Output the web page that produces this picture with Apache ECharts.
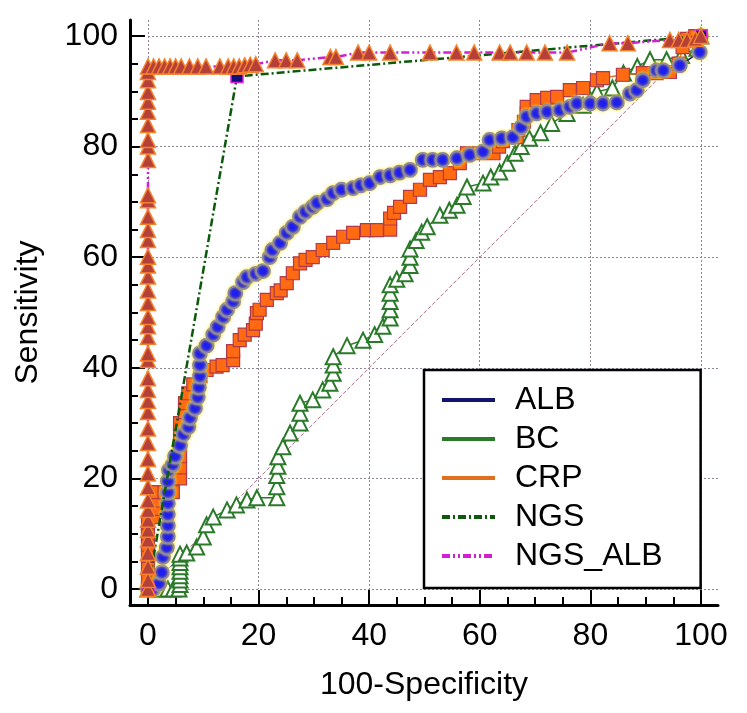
<!DOCTYPE html>
<html>
<head>
<meta charset="utf-8">
<script src="https://cdn.jsdelivr.net/npm/echarts@6/dist/echarts.min.js"></script>
<style>
html,body{margin:0;padding:0;background:#fff;}
#chart{width:747px;height:713px;}
</style>
</head>
<body>
<div id="chart"></div>
<script>
// ---- data (100-Specificity, Sensitivity) ----
const seriesNames = ['ALB', 'BC', 'CRP', 'NGS', 'NGS_ALB'];
const xTickValues = [0, 20, 40, 60, 80, 100];
const yTickValues = [0, 20, 40, 60, 80, 100];

const albData = [[0,0],[1,0],[2,1],[2.5,3],[2.7,5.8],[3.4,7.5],[3.6,9.5],[3.6,11.5],[3.6,13.5],[3.6,15.5],[3.6,17.5],[3.6,19.5],[3.8,21.5],[4.5,22.5],[4.9,24],[5.8,26],[6.4,28],[7.3,29.3],[7.6,31],[8.5,32.7],[9,34.7],[9.2,36.5],[9.4,38.5],[9.4,40.5],[9.4,42.6],[10.6,44],[11.8,46],[12.6,47.4],[13.6,49.2],[14.3,50.5],[15.4,52],[15.8,53.5],[17.2,55.5],[17.9,56.4],[19.5,57],[20.8,57.5],[22,60],[22.5,61.3],[23.9,62.6],[25.1,64.4],[26.2,65.5],[27.5,67.3],[28.5,68.2],[29.8,69.1],[30.6,69.8],[32.4,70.5],[33.5,71.6],[35,72.2],[37.1,72.5],[38.5,73],[40.1,73.4],[42,74.5],[43.8,74.8],[45.5,75.3],[47.4,75.8],[49.7,77.6],[51.5,77.6],[53.3,77.6],[55.9,77.9],[58.2,78.5],[60.6,79.1],[61.8,81.2],[64,81.5],[66,81.7],[67.5,83.5],[68.5,85.4],[70.3,86],[72.2,86.3],[74.5,86.6],[76.3,87.2],[77.6,87.8],[80,87.8],[82.3,87.8],[84.8,88],[87.2,89.6],[88.4,90.2],[89.5,92],[92,93.8],[93.2,93.8],[96.2,94.7],[99.8,97.1],[100,100]];

const bcData = [[0,0],[1.6,0],[2.6,0],[3.6,0],[4.6,0],[5.6,0],[5.8,0.8],[5.8,1.6],[5.8,2.4],[5.8,3.2],[5.8,4],[5.8,4.8],[5.8,5.6],[5.8,6.3],[7,6.5],[8.8,7.6],[10,9.4],[10.6,11.6],[11.8,13],[14.3,14.3],[16,15.2],[17.9,16.1],[19.7,16.5],[23.3,16.5],[23.3,18.5],[23.3,20.5],[23.5,22.2],[23.5,23.9],[24.4,25.7],[25.7,28.2],[27.5,30],[27.5,31.8],[27.5,33.6],[29.8,34.2],[31.6,36],[32.9,37.2],[33.5,39],[33.5,40.5],[33.5,42],[36,44],[38.9,45],[41,46],[42.5,47.5],[43.8,49],[43.8,50.5],[43.8,52],[43.8,53.5],[43.8,55],[45,56],[46.5,57],[47.4,58.5],[47.4,60],[47.4,61.5],[48.5,63],[49.5,64.5],[50.5,65.5],[52.8,67.6],[54.5,68.5],[55.9,69.4],[57,71],[57.7,72.7],[60.6,73.4],[62,74.5],[63.6,75.4],[65,77],[66.4,78.8],[67.5,80],[69,81.5],[71,82.5],[73,84.2],[75.8,86],[78.7,87.5],[80,88.5],[81.2,89.9],[84,90.6],[86,93.3],[88.5,94.5],[90.8,95.7],[93.8,95.7],[96.5,96.5],[99.3,97.8],[100,100]];

const crpData = [[0,0],[0,2],[0,4],[0,6],[0,8],[0,10],[0,12],[1,13],[1.6,14.5],[1.6,16],[1.6,17.5],[3,17.5],[4.5,17.5],[5.8,20],[5.8,22],[5.8,24],[5.8,26],[5.8,28],[5.8,30],[6.7,32],[6.7,33.6],[7.3,35.4],[8.2,37],[9.5,38.5],[10.6,39.6],[12.4,40.2],[13.5,40.5],[15.4,41.4],[15.4,43],[16.6,45],[17.5,46],[19,46.8],[19.5,48],[19.7,49.9],[20.2,50.5],[21.5,52.3],[23.3,53.5],[24,54],[25.1,55.3],[26.2,57.1],[27.5,58.9],[28.5,59.5],[29.8,60],[31.6,61.3],[33.5,62.6],[35.3,63.7],[37.1,64.4],[39.6,64.9],[41.4,64.9],[43.8,65],[43.8,67],[44.5,68],[45.6,69.1],[47.4,70.9],[49.2,72.2],[51,74],[52.8,74.5],[54.6,75.2],[56.4,77],[57.7,78.8],[60,78.8],[62.5,78.8],[63.5,80],[64.2,81],[66.7,81.7],[67,83],[68,84.5],[68.5,86],[68.5,87.2],[70.3,88.4],[72.2,88.8],[74,89],[76.3,90.2],[78.7,90.6],[81.2,92],[82.3,92.4],[85.9,93],[89.5,93.3],[92,93.3],[94.4,93.5],[96,95],[96.7,98],[97.5,99.5],[99,100],[100,100]];

const ngsData = [[0,0],[16.1,92.7],[100,100]];

const ngsAlbData = [[0,0],[0,1.6],[0,4],[0,6.5],[0,8.9],[0,10.7],[0,12.5],[0,14.3],[0,16],[0,18.4],[0,20.9],[0,23.5],[0,26.4],[0,29],[0,32],[0,34],[0,36],[0,38.1],[0,41.4],[0,42.6],[0,45.6],[0,47.5],[0,49.2],[0,51.7],[0,54],[0,56.5],[0,58.5],[0,60.1],[0,63.1],[0,64.9],[0,67.3],[0,70.3],[0,71.2],[0,77.6],[0,80],[0,81.2],[0,83.9],[0,86.3],[0,88.1],[0,89.9],[0,92],[0,93.5],[0,94.5],[1,94.5],[2,94.5],[3,94.5],[4,94.5],[5,94.5],[6,94.5],[7.5,94.5],[9,94.5],[10.5,94.5],[13,94.5],[14.5,94.5],[15.5,94.5],[16.5,94.5],[17.5,94.7],[18.5,94.8],[19.5,94.9],[23,95.6],[25,95.6],[27,95.6],[33,96.2],[34,96.2],[38,97],[40,97],[43.8,97],[51,97],[55.8,97],[59,97],[63.6,97],[65.5,97],[68.5,97],[71.8,97],[75.8,97],[83.5,98.7],[86.8,98.7],[94.4,99.3],[96,99.3],[97.5,99.3],[99,99.5],[100,100]];

const refLine = [[0,0],[100,100]];

// ---- chart ----
const FONT = 'Liberation Sans, Arial, sans-serif';
const chart = echarts.init(document.getElementById('chart'), null, {renderer:'canvas'});

const option = {
  animation: false,
  backgroundColor: '#ffffff',
  textStyle: {fontFamily: FONT},
  grid: [
    {left: 130, right: 29, top: 20, bottom: 108},  // data grid
    {left: 148, right: 46, top: 36, bottom: 124},  // tick grid 0..100
    {left: 148, right: 29, top: 20, bottom: 124}   // grid lines 0..103
  ],
  xAxis: [
    {gridIndex: 0, type: 'value', min: -3.25, max: 103.1,
     axisLine: {onZero: false, lineStyle: {color: '#000', width: 3}},
     axisTick: {show: false}, axisLabel: {show: false}, splitLine: {show: false},
     name: '100-Specificity', nameLocation: 'middle', nameGap: 64,
     nameTextStyle: {fontSize: 32, color: '#000', fontFamily: FONT}},
    {gridIndex: 1, type: 'value', min: 0, max: 100, interval: 20, offset: 16,
     axisLine: {show: false, onZero: false},
     axisTick: {show: true, inside: true, length: 15, lineStyle: {color: '#000', width: 2}},
     minorTick: {show: true, splitNumber: 4, length: 8, lineStyle: {color: '#000', width: 2}},
     axisLabel: {fontSize: 32, color: '#000', margin: 15, fontFamily: FONT,
                 customValues: xTickValues},
     splitLine: {show: false}},
    {gridIndex: 2, type: 'value', min: 0, max: 103.1, interval: 20,
     axisLine: {show: false, onZero: false}, axisTick: {show: false}, axisLabel: {show: false},
     splitLine: {show: true, showMaxLine: false, lineStyle: {color: '#8e8696', type: [2, 2], width: 1}}}
  ],
  yAxis: [
    {gridIndex: 0, type: 'value', min: -2.9, max: 102.9,
     axisLine: {onZero: false, lineStyle: {color: '#000', width: 3}},
     axisTick: {show: false}, axisLabel: {show: false}, splitLine: {show: false},
     name: 'Sensitivity', nameLocation: 'middle', nameGap: 86,
     nameTextStyle: {fontSize: 32, color: '#000', fontFamily: FONT}},
    {gridIndex: 1, type: 'value', min: 0, max: 100, interval: 20, offset: 18,
     axisLine: {show: false, onZero: false},
     axisTick: {show: true, inside: true, length: 15, lineStyle: {color: '#000', width: 2}},
     minorTick: {show: true, splitNumber: 4, length: 8, lineStyle: {color: '#000', width: 2}},
     axisLabel: {fontSize: 32, color: '#000', margin: 12, fontFamily: FONT,
                 customValues: yTickValues},
     splitLine: {show: false}},
    {gridIndex: 2, type: 'value', min: 0, max: 102.9, interval: 20,
     axisLine: {show: false, onZero: false}, axisTick: {show: false}, axisLabel: {show: false},
     splitLine: {show: true, showMaxLine: false, lineStyle: {color: '#8e8696', type: [2, 2], width: 1}}}
  ],
  legend: {
    orient: 'vertical', left: 424, top: 370,
    padding: [14, 38, 16, 16],
    itemWidth: 53, itemHeight: 32, itemGap: 7,
    backgroundColor: '#fff', borderColor: '#000', borderWidth: 2.5, borderRadius: 0,
    textStyle: {fontSize: 32, color: '#000', lineHeight: 32, fontFamily: FONT, padding: [0, 0, 0, 15]},
    itemStyle: {opacity: 0},
    lineStyle: {width: 4},
    selectedMode: false,
    data: seriesNames
  },
  series: [
    {type: 'line', data: refLine, xAxisIndex: 0, yAxisIndex: 0, showSymbol: false, silent: true,
     lineStyle: {color: '#a87080', width: 1, type: [4, 2]}, z: 1},
    {name: seriesNames[1], type: 'line', data: bcData, xAxisIndex: 0, yAxisIndex: 0,
     symbol: 'triangle', symbolSize: 15, clip: false,
     itemStyle: {color: '#ffffff', borderColor: '#2a7a2a', borderWidth: 2},
     lineStyle: {color: '#2a7a2a', width: 1.5}, z: 2},
    {name: seriesNames[2], type: 'line', data: crpData, xAxisIndex: 0, yAxisIndex: 0,
     symbol: 'rect', symbolSize: 13, clip: false,
     itemStyle: {color: '#ff6a13', borderColor: '#b03a48', borderWidth: 1.2},
     lineStyle: {color: '#e07020', width: 1.5}, z: 3},
    {name: seriesNames[0], type: 'line', data: albData, xAxisIndex: 0, yAxisIndex: 0,
     symbol: 'circle', symbolSize: 14, clip: false,
     itemStyle: {color: '#1e1ef0', borderColor: '#8a8aa8', borderWidth: 1.8,
                 shadowColor: 'rgba(255,225,0,0.9)', shadowBlur: 3},
     lineStyle: {color: '#14146e', width: 1.5}, z: 4},
    {name: seriesNames[3], type: 'line', data: ngsData, xAxisIndex: 0, yAxisIndex: 0,
     symbol: 'rect', symbolSize: 12, clip: false,
     itemStyle: {color: '#10107a', borderColor: '#e020e0', borderWidth: 1.5},
     lineStyle: {color: '#0a5a0a', width: 2.5, type: [8, 3, 2, 3]}, z: 5},
    {name: seriesNames[4], type: 'line', data: ngsAlbData, xAxisIndex: 0, yAxisIndex: 0,
     symbol: 'triangle', symbolSize: 15, clip: false,
     itemStyle: {color: '#b5403a', borderColor: '#f5822a', borderWidth: 1.5},
     lineStyle: {color: '#d020d0', width: 2.5, type: [8, 3, 2, 3, 2, 3]}, z: 6}
  ]
};
chart.setOption(option);
</script>
</body>
</html>
